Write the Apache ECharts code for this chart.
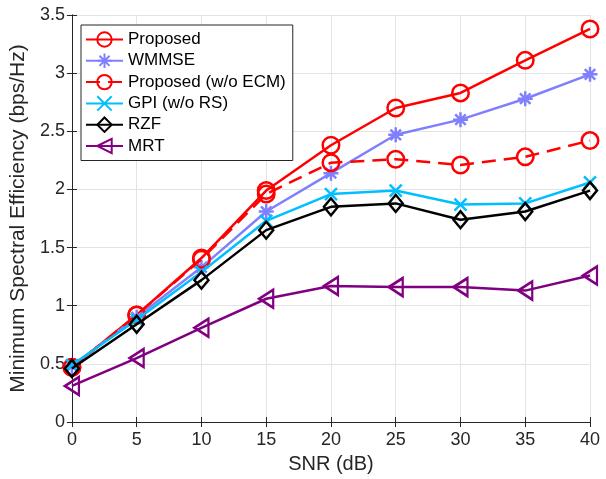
<!DOCTYPE html>
<html><head><meta charset="utf-8">
<script src="https://cdn.jsdelivr.net/npm/echarts@6/dist/echarts.min.js"></script>
<style>html,body{margin:0;padding:0;background:#fff}#c{width:606px;height:479px}</style>
</head><body><div id="c"></div>
<script>
const snr = [0, 5, 10, 15, 20, 25, 30, 35, 40];
const proposed = [0.47, 0.92, 1.41, 1.99, 2.38, 2.70, 2.83, 3.11, 3.38];
const wmmse = [0.48, 0.90, 1.33, 1.81, 2.14, 2.47, 2.60, 2.78, 2.99];
const proposedNoEcm = [0.47, 0.92, 1.40, 1.96, 2.23, 2.26, 2.21, 2.28, 2.42];
const gpi = [0.49, 0.88, 1.29, 1.73, 1.96, 1.99, 1.87, 1.88, 2.06];
const rzf = [0.46, 0.84, 1.22, 1.65, 1.85, 1.88, 1.74, 1.81, 1.99];
const mrt = [0.31, 0.55, 0.81, 1.06, 1.17, 1.16, 1.16, 1.13, 1.26];
const names = ['Proposed', 'WMMSE', 'Proposed (w/o ECM)', 'GPI (w/o RS)', 'RZF', 'MRT'];
const yTicks = [0, 0.5, 1, 1.5, 2, 2.5, 3, 3.5];

const pts = arr => snr.map((x, i) => [x, arr[i]]);
const AX = '#262626';
const font = 'Liberation Sans, Arial, Helvetica, sans-serif';
const asterisk = 'path://M5,0 L5,10 M0,5 L10,5 M1.5,1.5 L8.5,8.5 M1.5,8.5 L8.5,1.5';
const cross = 'path://M0,0 L10,10 M0,10 L10,0';

function mk(name, data, color, symbol, size, opts) {
  opts = opts || {};
  return Object.assign({
    name, type: 'line', data: pts(data), symbol, symbolSize: size,
    lineStyle: {color, width: 2.5, type: opts.dash ? [14, 8] : 'solid'},
    itemStyle: {color: opts.fill || 'rgba(0,0,0,0)', borderColor: color, borderWidth: 2.5},
    emphasis: {disabled: true}, animation: false, z: opts.z || 2
  }, opts.extra || {});
}

const chart = echarts.init(document.getElementById('c'), null, {renderer: 'canvas'});
chart.setOption({
  animation: false,
  backgroundColor: '#fff',
  grid: {left: 71, right: 16, top: 15, bottom: 54.5, containLabel: false},
  legend: {
    orient: 'vertical', left: 81, top: 25,
    backgroundColor: '#fff', borderColor: AX, borderWidth: 1,
    padding: [6, 7, 6, 4], itemWidth: 37, itemHeight: 18, itemGap: 4.3,
    textStyle: {fontFamily: font, fontSize: 17, color: '#000'},
    data: names
  },
  xAxis: [{
    type: 'value', min: 0, max: 40, interval: 5,
    name: 'SNR (dB)', nameLocation: 'middle', nameGap: 32,
    nameTextStyle: {fontFamily: font, fontSize: 20, color: AX},
    axisLine: {show: true, lineStyle: {color: AX, width: 1}},
    axisTick: {show: true, inside: true, length: 5, lineStyle: {color: AX}},
    axisLabel: {fontFamily: font, fontSize: 18, color: AX, margin: 9},
    splitLine: {show: true, lineStyle: {color: '#e3e3e3', width: 1}}
  }, {
    type: 'value', min: 0, max: 40, interval: 5, position: 'top',
    axisLine: {show: true, lineStyle: {color: AX, width: 1}},
    axisTick: {show: true, inside: true, length: 5, lineStyle: {color: AX}},
    axisLabel: {show: false}, splitLine: {show: false}
  }],
  yAxis: [{
    type: 'value', min: 0, max: 3.5, interval: 0.5,
    name: 'Minimum Spectral Efficiency (bps/Hz)', nameLocation: 'middle', nameGap: 37,
    nameTextStyle: {fontFamily: font, fontSize: 21, color: AX},
    axisLine: {show: true, lineStyle: {color: AX, width: 1}},
    axisTick: {show: true, inside: true, length: 5, lineStyle: {color: AX}},
    axisLabel: {fontFamily: font, fontSize: 18, color: AX, margin: 7,
      formatter: v => yTicks.includes(v) ? String(v) : ''},
    splitLine: {show: true, lineStyle: {color: '#e3e3e3', width: 1}}
  }, {
    type: 'value', min: 0, max: 3.5, interval: 0.5, position: 'right',
    axisLine: {show: true, lineStyle: {color: AX, width: 1}},
    axisTick: {show: true, inside: true, length: 5, lineStyle: {color: AX}},
    axisLabel: {show: false}, splitLine: {show: false}
  }],
  series: [
    mk(names[0], proposed, '#ff0000', 'circle', 16.5, {z: 2}),
    mk(names[1], wmmse, '#8080ff', asterisk, 15, {z: 3}),
    mk(names[2], proposedNoEcm, '#ff0000', 'circle', 16.5, {dash: true, z: 4}),
    mk(names[3], gpi, '#00bfff', cross, 12, {z: 5}),
    mk(names[4], rzf, '#000000', 'diamond', [14, 17], {z: 6}),
    mk(names[5], mrt, '#800080', 'triangle', [18, 14], {z: 7, extra: {symbolRotate: 90}})
  ]
});
</script></body></html>
